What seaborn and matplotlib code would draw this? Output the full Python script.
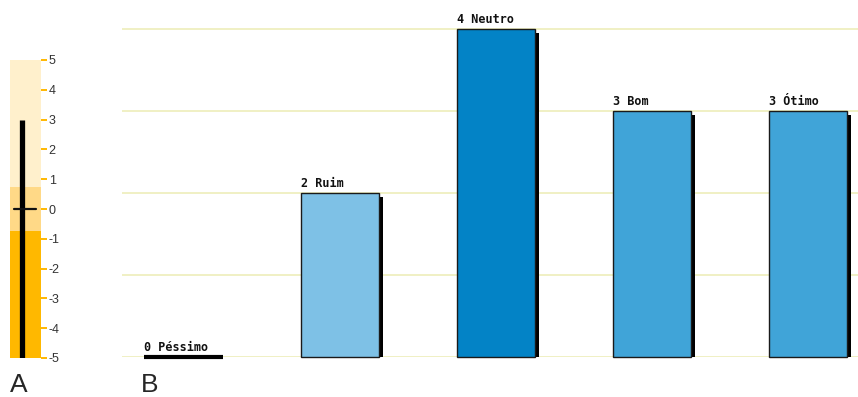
import matplotlib
matplotlib.use("Agg")
import matplotlib.pyplot as plt
import matplotlib.transforms as mtransforms
import numpy as np
import pandas as pd
import seaborn as sns

# Ratings distribution
categories = ["Péssimo", "Ruim", "Neutro", "Bom", "Ótimo"]
counts = [0, 2, 4, 3, 3]
bar_colors = ["#40a4d8", "#7ec1e6", "#0383c6", "#40a4d8", "#40a4d8"]

# Score gauge
score = 3
score_floor = -5
zero_mark = 0
band_edges = [-5, -0.75, 0.75, 5]
band_colors = ["#ffb800", "#ffd987", "#fff0cc"]
gauge_ticks = [-5, -4, -3, -2, -1, 0, 1, 2, 3, 4, 5]

sns.set_theme(style="white")
plt.rcParams["font.family"] = ["Liberation Sans", "DejaVu Sans"]

W, H = 858, 397
fig = plt.figure(figsize=(W / 100, H / 100), dpi=100)


def px_axes(x0, y0, x1, y1):
    return fig.add_axes([x0 / W, 1 - y1 / H, (x1 - x0) / W, (y1 - y0) / H])


# ---- Gauge (A) ----
axA = px_axes(10, 60, 41, 358)
for lo, hi, c in zip(band_edges[:-1], band_edges[1:], band_colors):
    axA.axhspan(lo, hi, color=c, lw=0)
axA.plot([-0.2, -0.2], [score_floor, score], color="black", lw=3.8,
         solid_capstyle="butt")
axA.plot([-0.74, 0.7], [zero_mark, zero_mark], color="#111111", lw=1.6)
axA.set_xlim(-1, 1)
axA.set_ylim(band_edges[0], band_edges[-1])
axA.set_xticks([])
axA.set_yticks(gauge_ticks)
axA.set_yticklabels([str(t) for t in gauge_ticks])
axA.yaxis.tick_right()
axA.tick_params(axis="y", length=4, width=1.4, color="#ffb800",
                labelsize=9, labelcolor="#333333", pad=1.5, right=True,
                left=False)
for s in axA.spines.values():
    s.set_visible(False)

# ---- Bars (B) ----
axB = px_axes(122, 0, 858, 357)
df = pd.DataFrame({"categoria": categories, "n": counts})

# drop shadow layer, nudged right and down
sns.barplot(data=df, x="categoria", y="n", order=categories, ax=axB,
            color="black", width=0.5, linewidth=0, saturation=1, zorder=2)
shift = mtransforms.ScaledTranslation(4 / 100, -4 / 100, fig.dpi_scale_trans)
for p in axB.patches:
    p.set_transform(axB.transData + shift)

n_shadow = len(axB.patches)
sns.barplot(data=df, x="categoria", y="n", order=categories, ax=axB,
            hue="categoria", palette=bar_colors, legend=False, width=0.5,
            edgecolor="#1a1a1a", linewidth=1, saturation=1, zorder=3)
for p, v, lab in zip(axB.patches[n_shadow:], counts, categories):
    if v == 0:
        p.set_linewidth(3)
        p.set_edgecolor("black")
    p.set_clip_on(False)
    axB.annotate(f"{v} {lab}", (p.get_x(), v), xytext=(0, 2.5),
                 textcoords="offset points", ha="left", va="bottom",
                 fontsize=8.5, fontweight="bold", family="DejaVu Sans Mono",
                 color="#111111", zorder=5)

axB.set_xlim(-0.394, 4.32)
axB.set_ylim(0, 4.354)
axB.set_yticks([0, 1, 2, 3, 4])
axB.yaxis.grid(True, color="#efefbf", lw=1.3)
axB.set_axisbelow(True)
axB.set_xticks([])
axB.set_yticklabels([])
axB.tick_params(left=False, bottom=False)
axB.set_xlabel("")
axB.set_ylabel("")
for s in axB.spines.values():
    s.set_visible(False)

fig.text(10 / W, 0, "A", fontsize=19, ha="left", va="bottom")
fig.text(141 / W, 0, "B", fontsize=19, ha="left", va="bottom")

fig.savefig("out.png", dpi=100)
